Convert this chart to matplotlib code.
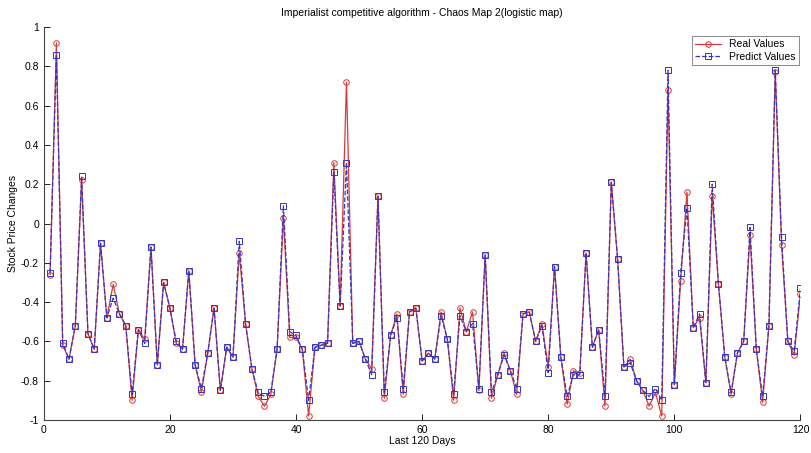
import matplotlib.pyplot as plt
from matplotlib.ticker import FormatStrFormatter

days = list(range(1, 121))

real_values = [
    -0.26, 0.92, -0.62, -0.69, -0.52, 0.22, -0.56, -0.64, -0.10, -0.48,
    -0.31, -0.46, -0.52, -0.90, -0.54, -0.59, -0.12, -0.72, -0.30, -0.43,
    -0.61, -0.64, -0.24, -0.72, -0.86, -0.66, -0.43, -0.85, -0.63, -0.68,
    -0.15, -0.51, -0.74, -0.88, -0.93, -0.87, -0.64, 0.03, -0.58, -0.58,
    -0.64, -0.98, -0.63, -0.62, -0.61, 0.31, -0.42, 0.72, -0.61, -0.60,
    -0.69, -0.74, 0.14, -0.89, -0.57, -0.46, -0.87, -0.45, -0.43, -0.70,
    -0.66, -0.69, -0.45, -0.59, -0.90, -0.43, -0.55, -0.45, -0.85, -0.16,
    -0.89, -0.77, -0.66, -0.75, -0.87, -0.46, -0.45, -0.60, -0.51, -0.73,
    -0.22, -0.68, -0.92, -0.75, -0.76, -0.15, -0.63, -0.54, -0.93, 0.21,
    -0.18, -0.73, -0.69, -0.80, -0.85, -0.93, -0.86, -0.98, 0.68, -0.82,
    -0.29, 0.16, -0.53, -0.48, -0.81, 0.14, -0.31, -0.68, -0.87, -0.66,
    -0.60, -0.06, -0.64, -0.91, -0.52, 0.77, -0.11, -0.60, -0.67, -0.36,
]

predict_values = [
    -0.25, 0.86, -0.61, -0.69, -0.52, 0.24, -0.56, -0.64, -0.10, -0.48,
    -0.38, -0.46, -0.52, -0.87, -0.54, -0.61, -0.12, -0.72, -0.30, -0.43,
    -0.60, -0.64, -0.24, -0.72, -0.84, -0.66, -0.43, -0.85, -0.63, -0.68,
    -0.09, -0.51, -0.74, -0.86, -0.88, -0.86, -0.64, 0.09, -0.55, -0.57,
    -0.64, -0.90, -0.63, -0.62, -0.61, 0.26, -0.42, 0.31, -0.61, -0.60,
    -0.69, -0.77, 0.14, -0.86, -0.57, -0.48, -0.84, -0.45, -0.43, -0.70,
    -0.66, -0.69, -0.47, -0.59, -0.87, -0.47, -0.55, -0.51, -0.84, -0.16,
    -0.86, -0.77, -0.67, -0.75, -0.84, -0.46, -0.45, -0.60, -0.52, -0.76,
    -0.22, -0.68, -0.88, -0.77, -0.77, -0.15, -0.63, -0.54, -0.88, 0.21,
    -0.18, -0.73, -0.71, -0.80, -0.85, -0.88, -0.84, -0.90, 0.78, -0.82,
    -0.25, 0.08, -0.53, -0.46, -0.81, 0.20, -0.31, -0.68, -0.86, -0.66,
    -0.60, -0.02, -0.64, -0.88, -0.52, 0.78, -0.07, -0.60, -0.65, -0.33,
]


def main():
    plt.rcParams["font.family"] = ["Liberation Sans", "DejaVu Sans"]

    fig = plt.figure(figsize=(8.11, 4.53), dpi=100)
    ax = fig.add_axes([0.054, 0.073, 0.933, 0.867])

    ax.plot(days, real_values, color="#d83a3a", linestyle="-", linewidth=0.9,
            marker="o", markersize=4, markerfacecolor="none",
            markeredgewidth=0.7, label="Real Values")
    ax.plot(days, predict_values, color="#3535c0", linestyle="--", linewidth=0.9,
            marker="s", markersize=4, markerfacecolor="none",
            markeredgewidth=0.7, label="Predict Values")

    ax.set_xlim(0, 120)
    ax.set_ylim(-1, 1)
    ax.set_xticks(range(0, 121, 20))
    ax.set_yticks([-1, -0.8, -0.6, -0.4, -0.2, 0, 0.2, 0.4, 0.6, 0.8, 1])
    ax.yaxis.set_major_formatter(FormatStrFormatter("%g"))
    ax.tick_params(direction="in", labelsize=7.5, length=4, width=0.6)
    for side in ("top", "right"):
        ax.spines[side].set_visible(False)
    for side in ("left", "bottom"):
        ax.spines[side].set_linewidth(0.8)
        ax.spines[side].set_color("#444444")

    ax.set_title("Imperialist competitive algorithm - Chaos Map 2(logistic map)",
                 fontsize=7.5, pad=8)
    ax.set_xlabel("Last 120 Days", fontsize=7.5, labelpad=1)
    ax.set_ylabel("Stock Price Changes", fontsize=7.5, labelpad=2)

    leg = ax.legend(loc="upper right", fontsize=7.5, fancybox=False,
                    handlelength=2.5, borderpad=0.3, labelspacing=0.2,
                    bbox_to_anchor=(1.005, 0.99))
    leg.get_frame().set_edgecolor("#555555")
    leg.get_frame().set_linewidth(0.6)

    fig.savefig("out.png", dpi=100)
    plt.close(fig)


if __name__ == "__main__":
    main()
